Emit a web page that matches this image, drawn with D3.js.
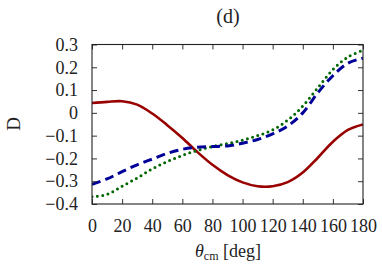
<!DOCTYPE html>
<html>
<head>
<meta charset="utf-8">
<script src="https://cdn.jsdelivr.net/npm/d3@7"></script>
<style>
	body { margin: 0; background: #fff; }
	svg text { font-family: "Liberation Serif", "DejaVu Serif", serif; fill: #222; }
</style>
</head>
<body>
<script>
var angles = [0, 10, 20, 30, 40, 50, 60, 70, 80, 90, 100, 110, 120, 130, 140, 150, 160, 170, 180];

var solidD  = [0.043, 0.048, 0.051, 0.036, -0.003, -0.054, -0.110, -0.172, -0.228, -0.273, -0.305, -0.322, -0.322, -0.304, -0.262, -0.197, -0.127, -0.075, -0.051];
var dashedD = [-0.314, -0.290, -0.258, -0.228, -0.203, -0.178, -0.160, -0.151, -0.148, -0.145, -0.133, -0.117, -0.092, -0.058, 0.000, 0.088, 0.163, 0.218, 0.240];
var dottedD = [-0.368, -0.358, -0.322, -0.286, -0.246, -0.214, -0.187, -0.165, -0.148, -0.135, -0.120, -0.100, -0.075, -0.032, 0.030, 0.110, 0.190, 0.245, 0.275];

var xTicks = [0, 20, 40, 60, 80, 100, 120, 140, 160, 180];
var yTicks = [-0.4, -0.3, -0.2, -0.1, 0, 0.1, 0.2, 0.3];

var width = 382, height = 269;
// frame edges (note: "top" is taken by window.top)
var frameL = 92, frameR = 363, frameT = 44.5, frameB = 204;

var svg = d3.select("body").append("svg")
	.attr("width", width)
	.attr("height", height);

var x = d3.scaleLinear().domain([0, 180]).range([frameL, frameR]);
var y = d3.scaleLinear().domain([-0.4, 0.3]).range([frameB, frameT]);

function fmt(v) {
	if (Math.abs(v) < 1e-9) return "0";
	return (v < 0 ? "\u2212" : "") + Math.abs(v).toFixed(1);
}

// clip curves to the frame
svg.append("clipPath").attr("id", "frame")
	.append("rect")
	.attr("x", frameL).attr("y", frameT)
	.attr("width", frameR - frameL).attr("height", frameB - frameT);

var line = d3.line()
	.x(function(d) { return x(d[0]); })
	.y(function(d) { return y(d[1]); })
	.curve(d3.curveCatmullRom.alpha(0.5));

function series(vals) {
	return angles.map(function(a, i) { return [a, vals[i]]; });
}

var curves = svg.append("g").attr("clip-path", "url(#frame)");

curves.append("path")
	.datum(series(solidD))
	.attr("d", line)
	.style("fill", "none")
	.style("stroke", "#990000")
	.style("stroke-width", 2.6);

curves.append("path")
	.datum(series(dottedD))
	.attr("d", line)
	.style("fill", "none")
	.style("stroke", "#006600")
	.style("stroke-width", 3)
	.style("stroke-linecap", "round")
	.style("stroke-dasharray", "0,5.4");

curves.append("path")
	.datum(series(dashedD))
	.attr("d", line)
	.style("fill", "none")
	.style("stroke", "#000099")
	.style("stroke-width", 3)
	.style("stroke-dasharray", "9,5");

// axes with inward ticks on all four sides
var tickLen = 5;
var axB = svg.append("g").attr("transform", "translate(0," + frameB + ")")
	.call(d3.axisBottom(x).tickValues(xTicks).tickSizeInner(-tickLen).tickSizeOuter(0).tickPadding(15).tickFormat(d3.format("d")));
var axT = svg.append("g").attr("transform", "translate(0," + frameT + ")")
	.call(d3.axisTop(x).tickValues(xTicks).tickSizeInner(-tickLen).tickSizeOuter(0).tickFormat(""));
var axL = svg.append("g").attr("transform", "translate(" + frameL + ",0)")
	.call(d3.axisLeft(y).tickValues(yTicks).tickSizeInner(-tickLen).tickSizeOuter(0).tickPadding(14).tickFormat(fmt));
var axR = svg.append("g").attr("transform", "translate(" + frameR + ",0)")
	.call(d3.axisRight(y).tickValues(yTicks).tickSizeInner(-tickLen).tickSizeOuter(0).tickFormat(""));

[axB, axT, axL, axR].forEach(function(a) {
	a.select(".domain").remove();
	a.selectAll("line").style("stroke", "#333").style("stroke-width", 1);
	a.selectAll("text")
		.style("font-family", "Liberation Serif, DejaVu Serif, serif")
		.style("font-size", "18px")
		.style("fill", "#222");
});

svg.append("rect")
	.attr("x", frameL).attr("y", frameT)
	.attr("width", frameR - frameL).attr("height", frameB - frameT)
	.style("fill", "none")
	.style("stroke", "#222")
	.style("stroke-width", 1.1);

// title and axis labels
svg.append("text")
	.attr("x", 228).attr("y", 23)
	.style("text-anchor", "middle")
	.style("font-size", "20px")
	.text("(d)");

svg.append("text")
	.attr("transform", "translate(20,124) rotate(-90)")
	.style("text-anchor", "middle")
	.style("font-size", "19px")
	.text("D");

var xl = svg.append("text")
	.attr("x", 228).attr("y", 257)
	.style("text-anchor", "middle")
	.style("font-size", "18px");
xl.append("tspan").style("font-style", "italic").text("\u03b8");
xl.append("tspan").attr("dy", 3).style("font-size", "12px").text("cm");
xl.append("tspan").attr("dy", -3).text(" [deg]");
</script>
</body>
</html>
